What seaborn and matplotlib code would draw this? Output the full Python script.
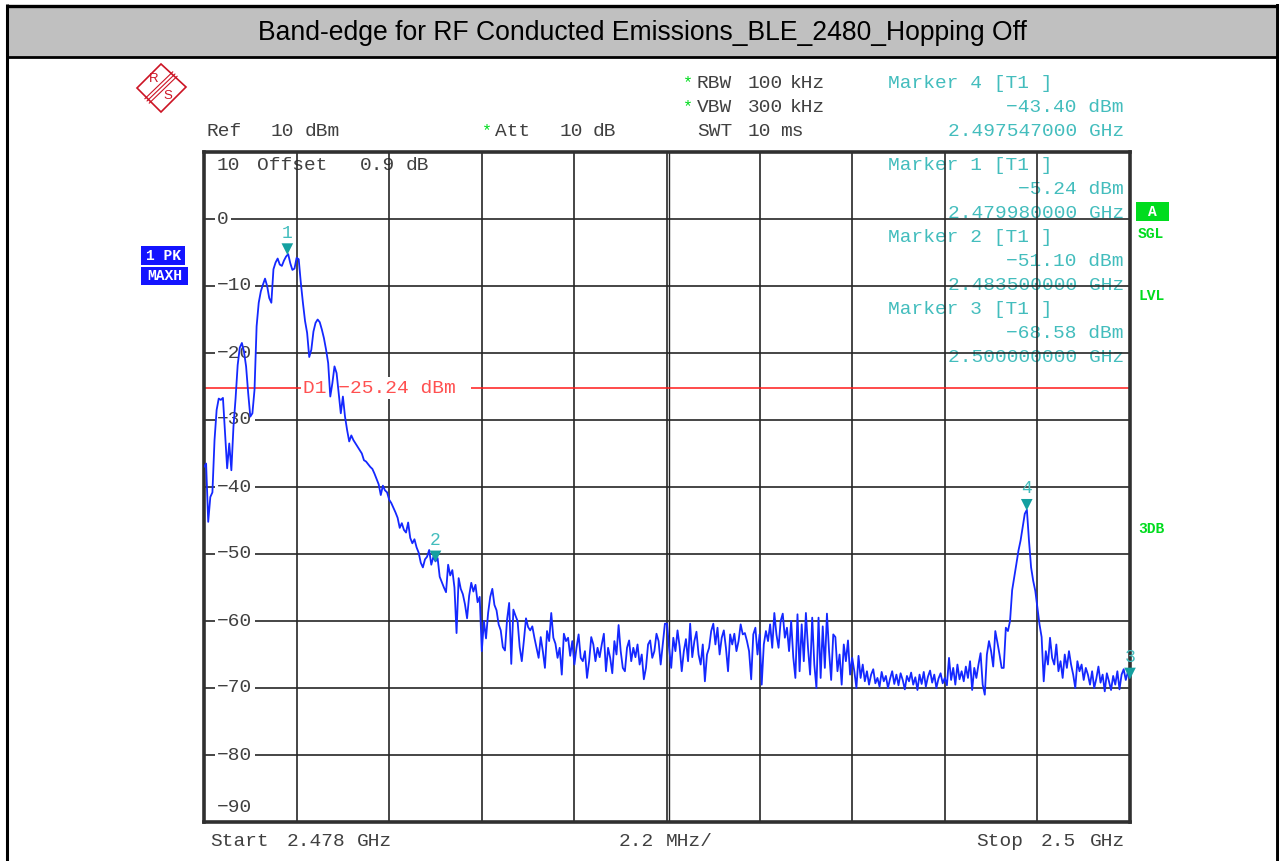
import numpy as np
import pandas as pd
import matplotlib
matplotlib.use("Agg")
import matplotlib.pyplot as plt
import matplotlib.transforms as mtransforms
from matplotlib.patches import Rectangle, Polygon
import seaborn as sns

# ---- sweep settings -------------------------------------------------------
START_MHZ = 2478.0
STOP_MHZ = 2500.0
REF_LEVEL_DBM = 10
BOTTOM_DBM = -90
D1_LEVEL_DBM = -25.24

# ---- trace (max hold, dBm), 20 sweep points per MHz -----------------------
row_2478 = [-37.0, -36.5, -45.2, -41.5, -40.8, -33.0, -28.5, -26.8, -27.0, -26.7,
            -32.0, -37.2, -33.5, -37.5, -31.0, -26.8, -21.8, -19.2, -18.5, -19.8]
row_2479 = [-22.0, -26.0, -29.5, -29.0, -25.5, -16.0, -12.5, -10.8, -9.8, -8.9,
            -10.0, -11.8, -12.5, -7.5, -6.5, -5.9, -6.8, -7.0, -6.2, -5.6]
row_2480 = [-5.24, -6.6, -7.6, -7.4, -5.8, -6.0, -9.5, -12.5, -15.2, -17.0,
            -20.6, -19.5, -16.8, -15.5, -15.0, -15.4, -16.5, -17.8, -19.5, -21.5]
row_2481 = [-26.5, -24.5, -22.0, -23.0, -26.0, -29.0, -26.5, -29.5, -31.5, -33.2,
            -32.3, -33.0, -33.5, -34.0, -34.5, -35.0, -36.0, -36.2, -36.6, -37.0]
row_2482 = [-37.3, -38.0, -38.8, -39.6, -41.2, -39.8, -40.5, -40.8, -41.9, -42.4,
            -43.1, -43.8, -44.6, -46.1, -45.4, -46.4, -46.8, -45.3, -47.6, -48.4]
row_2483 = [-47.8, -49.0, -49.8, -51.3, -52.0, -50.8, -50.4, -49.4, -51.6, -50.4,
            -51.1, -50.6, -53.4, -54.2, -55.0, -55.7, -51.6, -53.2, -52.4, -55.0]
row_2484 = [-61.8, -53.6, -55.2, -56.0, -57.5, -59.6, -56.2, -54.3, -55.6, -54.6,
            -57.2, -56.4, -64.5, -60.0, -62.6, -58.8, -56.4, -55.2, -57.6, -58.4]
row_2485 = [-60.5, -61.4, -63.9, -64.4, -59.8, -57.3, -66.4, -58.3, -59.2, -60.0,
            -63.9, -66.0, -62.9, -59.6, -60.9, -61.4, -60.8, -62.5, -64.0, -65.5]
row_2486 = [-62.4, -64.5, -67.0, -61.5, -63.0, -58.8, -62.5, -63.4, -65.5, -64.0,
            -68.0, -61.9, -63.0, -62.5, -65.2, -63.0, -66.5, -64.0, -62.0, -65.5]
row_2487 = [-66.0, -64.5, -68.5, -66.0, -62.4, -63.5, -66.0, -64.0, -65.4, -63.5,
            -61.9, -67.5, -64.0, -65.5, -67.8, -63.0, -65.0, -60.6, -64.5, -67.0]
row_2488 = [-67.5, -64.0, -62.9, -66.0, -64.0, -65.4, -63.5, -66.5, -65.0, -68.7,
            -67.0, -63.5, -62.9, -65.5, -64.5, -61.9, -63.0, -66.5, -63.5, -60.4]
row_2489 = [-60.4, -64.0, -67.0, -62.5, -64.5, -61.4, -63.8, -67.5, -64.5, -62.7,
            -66.0, -60.4, -65.4, -63.0, -61.6, -65.0, -66.5, -63.5, -69.0, -65.0]
row_2490 = [-64.0, -61.5, -60.4, -63.5, -61.0, -65.0, -62.5, -61.4, -64.0, -67.5,
            -62.0, -63.5, -61.9, -64.5, -63.0, -60.5, -62.0, -61.8, -63.0, -64.5]
row_2491 = [-68.7, -62.0, -61.0, -65.0, -62.0, -69.5, -63.5, -61.5, -63.0, -60.5,
            -64.0, -58.8, -62.0, -64.0, -60.0, -58.9, -62.5, -61.0, -64.5, -60.0]
row_2492 = [-65.4, -68.5, -59.0, -67.5, -60.5, -66.0, -58.8, -64.0, -68.0, -59.5,
            -66.5, -70.0, -59.5, -68.5, -60.8, -67.0, -58.9, -64.5, -68.8, -62.0]
row_2493 = [-62.4, -67.5, -65.0, -69.5, -63.5, -66.0, -62.9, -68.0, -65.5, -67.5,
            -70.0, -65.2, -68.5, -66.5, -69.0, -67.5, -69.5, -68.0, -67.2, -69.3]
row_2494 = [-68.5, -69.8, -67.6, -69.0, -68.2, -70.0, -68.6, -67.5, -69.4, -68.0,
            -69.6, -67.8, -68.8, -70.2, -68.2, -69.0, -67.7, -69.5, -68.4, -70.3]
row_2495 = [-68.0, -69.4, -67.6, -69.8, -68.3, -67.4, -69.2, -68.0, -70.0, -68.6,
            -67.8, -69.3, -68.5, -69.6, -65.5, -68.8, -67.0, -69.5, -66.5, -68.7]
row_2496 = [-67.5, -69.0, -66.8, -68.5, -66.0, -70.3, -67.0, -68.5, -66.5, -64.8,
            -69.5, -71.0, -65.0, -63.0, -64.5, -66.8, -61.5, -63.2, -65.0, -67.0]
row_2497 = [-67.0, -61.0, -61.5, -60.0, -55.4, -53.5, -51.5, -49.5, -48.0, -46.0,
            -44.0, -43.4, -48.0, -52.0, -54.0, -55.5, -58.0, -60.5, -62.4, -69.0]
row_2498 = [-64.5, -66.5, -62.5, -65.5, -66.5, -63.5, -67.5, -66.0, -68.5, -65.0,
            -67.0, -64.5, -66.5, -68.0, -70.0, -66.0, -67.5, -66.5, -68.8, -67.0]
row_2499 = [-68.0, -69.5, -67.5, -70.0, -68.6, -66.8, -69.2, -68.0, -70.5, -67.8,
            -69.0, -70.3, -68.2, -69.5, -67.5, -70.2, -68.0, -67.2, -68.8, -67.6]
last_point = [-68.58]

level_dbm = np.array(row_2478 + row_2479 + row_2480 + row_2481 + row_2482 + row_2483
                     + row_2484 + row_2485 + row_2486 + row_2487 + row_2488 + row_2489
                     + row_2490 + row_2491 + row_2492 + row_2493 + row_2494 + row_2495
                     + row_2496 + row_2497 + row_2498 + row_2499 + last_point)
freq_mhz = np.linspace(START_MHZ, STOP_MHZ, len(level_dbm))

# ---- markers ---------------------------------------------------------------
marker_ids = ["1", "2", "3", "4"]
marker_freq_ghz = [2.479980, 2.483500, 2.500000, 2.497547]
marker_level_dbm = [-5.24, -51.10, -68.58, -43.40]

y_tick_values = [0, -10, -20, -30, -40, -50, -60, -70, -80]

# ---- colours / fonts ------------------------------------------------------
TRACE = "#1428ff"
TEAL_TXT = "#43bdbd"
TEAL_MK = "#14a0a0"
GRAY_TXT = "#404040"
GREEN = "#00dc1e"
BLUE_BOX = "#1414ff"
RED_LINE = "#ff1a1a"
RED_TXT = "#ff5050"
MONO = ["Liberation Mono", "DejaVu Sans Mono"]

sns.set_style("white")
plt.rcParams["font.family"] = MONO

W, H = 1279, 861
fig = plt.figure(figsize=(W / 100, H / 100), dpi=100)

# overlay in pixel coordinates for the instrument screen furniture
ov = fig.add_axes([0, 0, 1, 1])
ov.set_xlim(0, W)
ov.set_ylim(H, 0)
ov.axis("off")

# main diagram area
x0, x1, y0, y1 = 204, 1130, 152, 822
ax = fig.add_axes([x0 / W, 1 - y1 / H, (x1 - x0) / W, (y1 - y0) / H])
ax.set_facecolor("none")

# ---- page frame and title band --------------------------------------------
ov.add_patch(Rectangle((7, 5.5), 1270, 51.5, facecolor="#c0c0c0", edgecolor="none", zorder=1))
ov.plot([7, 1277], [5.5, 5.5], color="black", lw=2.4, solid_capstyle="butt", zorder=2)
ov.plot([7, 1277], [57, 57], color="black", lw=2.0, solid_capstyle="butt", zorder=2)
ov.plot([7, 7], [4, H], color="black", lw=2.2, solid_capstyle="butt", zorder=2)
ov.plot([1277.5, 1277.5], [4, H], color="black", lw=2.8, solid_capstyle="butt", zorder=2)
ov.text(642.5, 33.5, "Band-edge for RF Conducted Emissions_BLE_2480_Hopping Off",
        ha="center", va="center", fontsize=19.1, color="black",
        family=["Liberation Sans", "DejaVu Sans"], zorder=3)

# ---- R&S logo ---------------------------------------------------------------
LOGO = "#cc1424"
ov.add_patch(Polygon([(137, 88), (161, 64), (186, 87), (161, 112)], closed=True,
                     fill=False, edgecolor=LOGO, lw=1.2, zorder=3))
for d in (-2.2, 0, 2.2):
    ov.plot([147 + d, 175 + d], [101 + d, 74 + d], color=LOGO, lw=0.8, zorder=3)
ov.text(154, 79, "R", color=LOGO, fontsize=9.5, ha="center", va="center",
        family=["Liberation Sans", "DejaVu Sans"], zorder=3)
ov.text(168, 96, "S", color=LOGO, fontsize=9.5, ha="center", va="center",
        family=["Liberation Sans", "DejaVu Sans"], zorder=3)


def put(x, y, s, color=GRAY_TXT, ha="left", size=14, **kw):
    ov.text(x, y, s, color=color, ha=ha, va="center", fontsize=size, family=MONO, zorder=3, **kw)


# ---- settings header -------------------------------------------------------
put(207, 132, "Ref")
put(271, 132, "10")
put(305, 132, "dBm")
put(482, 131, "*", color=GREEN, size=12)
put(495, 132, "Att")
put(560, 132, "10")
put(593, 132, "dB")
put(683, 83, "*", color=GREEN, size=12)
put(697, 84, "RBW")
put(748, 84, "100")
put(790, 84, "kHz")
put(683, 107, "*", color=GREEN, size=12)
put(697, 108, "VBW")
put(748, 108, "300")
put(790, 108, "kHz")
put(697, 132, "SWT")
put(748, 132, "10")
put(780, 132, "ms")
put(217, 166, "10")
put(257, 166, "Offset")
put(360, 166, "0.9")
put(406, 166, "dB")

# ---- marker readouts ---------------------------------------------------------
readout_rows = {"4": 84, "1": 165, "2": 237, "3": 309}
for mid, f_ghz, lvl in zip(marker_ids, marker_freq_ghz, marker_level_dbm):
    yy = readout_rows[mid]
    put(888, yy, f"Marker {mid} [T1 ]", color=TEAL_TXT)
    put(1124, yy + 24, f"{lvl:.2f} dBm".replace("-", "\u2212"), color=TEAL_TXT, ha="right")
    put(1124, yy + 48, f"{f_ghz:.9f} GHz", color=TEAL_TXT, ha="right")

# ---- footer ------------------------------------------------------------------
put(210, 841, "Start")
put(287, 841, "2.478")
put(357, 841, "GHz")
put(619, 841, "2.2")
put(666, 841, "MHz/")
put(976, 841, "Stop")
put(1041, 841, "2.5")
put(1090, 841, "GHz")

# ---- left / right status boxes ----------------------------------------------
ov.add_patch(Rectangle((141, 246), 44, 19, facecolor=BLUE_BOX, edgecolor="none", zorder=3))
ov.add_patch(Rectangle((141, 267), 47, 18, facecolor=BLUE_BOX, edgecolor="none", zorder=3))
ov.text(163, 256, "1 PK", color="white", fontsize=10.5, fontweight="bold", ha="center",
        va="center", family=MONO, zorder=4)
ov.text(164.5, 276.5, "MAXH", color="white", fontsize=10.5, fontweight="bold", ha="center",
        va="center", family=MONO, zorder=4)
ov.add_patch(Rectangle((1136, 202), 33, 19, facecolor=GREEN, edgecolor="none", zorder=3))
ov.text(1152.5, 212, "A", color="white", fontsize=10.5, fontweight="bold", ha="center",
        va="center", family=MONO, zorder=4)
for label, yy in (("SGL", 234), ("LVL", 296), ("3DB", 529)):
    ov.text(1138, yy, label, color=GREEN, fontsize=10.5, fontweight="bold", ha="left",
            va="center", family=MONO, zorder=4)

# ---- diagram -------------------------------------------------------------------
trace_df = pd.DataFrame({"freq_mhz": freq_mhz, "level_dbm": level_dbm})
sns.lineplot(data=trace_df, x="freq_mhz", y="level_dbm", ax=ax, estimator=None,
             sort=False, color=TRACE, lw=1.3, zorder=5)

ax.set_xlim(START_MHZ, STOP_MHZ)
ax.set_ylim(BOTTOM_DBM, REF_LEVEL_DBM)
ax.set_xticks(np.linspace(START_MHZ, STOP_MHZ, 11))
ax.set_yticks(y_tick_values + [REF_LEVEL_DBM])
ax.set_xticklabels([])
ax.set_yticklabels([])
ax.tick_params(length=0)
ax.set_xlabel("")
ax.set_ylabel("")
ax.set_axisbelow(True)
ax.grid(True, color="#262626", lw=1.2)
# centre line of the screen is drawn doubled
mid = (START_MHZ + STOP_MHZ) / 2
ax.axvline(mid + 0.05, color="#262626", lw=1.0, zorder=0.6)
for sp in ax.spines.values():
    sp.set_visible(True)
    sp.set_color("#303030")
    sp.set_linewidth(2.6)

# level labels on the left of the grid
ylab_tf = ax.get_yaxis_transform()
for v in y_tick_values:
    ax.text(13 / (x1 - x0), v, f"{v}".replace("-", "\u2212"), transform=ylab_tf,
            ha="left", va="center", fontsize=14, color=GRAY_TXT, family=MONO, zorder=3,
            bbox=dict(boxstyle="square,pad=0.12", fc="white", ec="none"))
ax.text(13 / (x1 - x0), BOTTOM_DBM + 2.1, f"{BOTTOM_DBM}".replace("-", "\u2212"),
        transform=ylab_tf, ha="left", va="center", fontsize=14, color=GRAY_TXT,
        family=MONO, zorder=3)

# display line D1
ax.axhline(D1_LEVEL_DBM, color=RED_LINE, lw=1.1, zorder=2)
ax.text(START_MHZ + 2.36, D1_LEVEL_DBM, f"D1 {D1_LEVEL_DBM:.2f} dBm ".replace("-", "\u2212"),
        ha="left", va="center", fontsize=14, color=RED_TXT, family=MONO, zorder=3,
        bbox=dict(boxstyle="square,pad=0.14", fc="white", ec="none"))

# marker symbols: downward triangles sitting on the trace
mk_tf = mtransforms.offset_copy(ax.transData, fig=fig, x=0, y=5, units="dots")
mk_df = pd.DataFrame({"freq_mhz": np.array(marker_freq_ghz) * 1000.0,
                      "level_dbm": marker_level_dbm, "id": marker_ids})
sns.scatterplot(data=mk_df, x="freq_mhz", y="level_dbm", ax=ax, marker="v", s=70,
                color=TEAL_MK, edgecolor="none", transform=mk_tf, zorder=6,
                clip_on=False, legend=False)
ax.set_xlabel("")
ax.set_ylabel("")
for _, r in mk_df.iterrows():
    ax.annotate(r["id"], xy=(r["freq_mhz"], r["level_dbm"]), xytext=(0, 21),
                textcoords="offset pixels", ha="center", va="center", fontsize=13,
                color=TEAL_TXT, family=MONO, zorder=6, annotation_clip=False)

fig.savefig("out.png", dpi=100)
